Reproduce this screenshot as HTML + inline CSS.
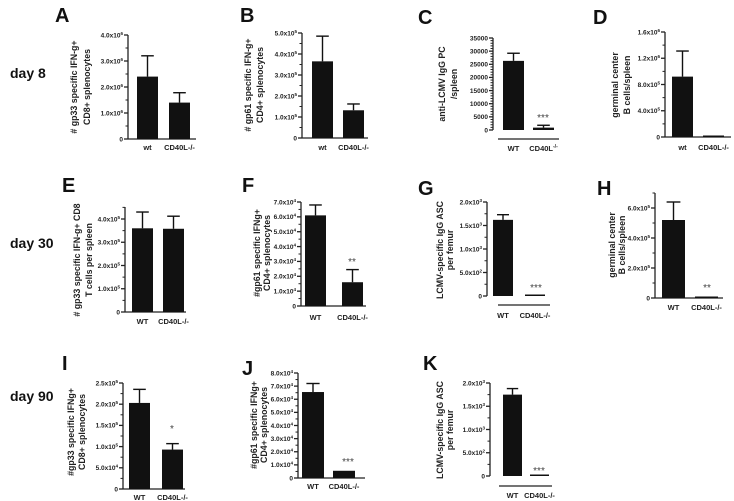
<!DOCTYPE html>
<html><head><meta charset="utf-8"><style>
html,body{margin:0;padding:0;background:#fff}
svg{display:block;font-family:"Liberation Sans",Arial,sans-serif}
</style></head><body>
<svg id="fig" width="734" height="501" viewBox="0 0 734 501">
<g font-weight="bold" font-size="14" fill="#111">
<text x="10" y="78">day 8</text>
<text x="10" y="248">day 30</text>
<text x="10" y="401">day 90</text>
</g>
</svg>
<script>
// ---- data ----
const catsLower = ["wt", "CD40L-/-"];
const catsUpper = ["WT", "CD40L-/-"];
const valsA = [2.4, 1.4];   const errsA = [3.2, 1.78];
const ticksA = [0, 1, 2, 3, 4]; const tickLabelsA = ["0", "1.0x10^6", "2.0x10^6", "3.0x10^6", "4.0x10^6"];
const valsB = [3.65, 1.32]; const errsB = [4.85, 1.62];
const ticksB = [0, 1, 2, 3, 4, 5]; const tickLabelsB = ["0", "1.0x10^5", "2.0x10^5", "3.0x10^5", "4.0x10^5", "5.0x10^5"];
const valsC = [26300, 900]; const errsC = [29200, 1800];
const ticksC = [0, 5000, 10000, 15000, 20000, 25000, 30000, 35000];
const tickLabelsC = ["0", "5000", "10000", "15000", "20000", "25000", "30000", "35000"];
const valsD = [0.92, 0.02]; const errsD = [1.31, 0.02];
const ticksD = [0, 0.4, 0.8, 1.2, 1.6]; const tickLabelsD = ["0", "4.0x10^5", "8.0x10^5", "1.2x10^6", "1.6x10^6"];
const valsE = [3.6, 3.58];  const errsE = [4.3, 4.12];
const ticksE = [0, 1, 2, 3, 4]; const tickLabelsE = ["0", "1.0x10^5", "2.0x10^5", "3.0x10^5", "4.0x10^5"];
const valsF = [6.1, 1.6];   const errsF = [6.8, 2.45];
const ticksF = [0, 1, 2, 3, 4, 5, 6, 7]; const tickLabelsF = ["0", "1.0x10^4", "2.0x10^4", "3.0x10^4", "4.0x10^4", "5.0x10^4", "6.0x10^4", "7.0x10^4"];
const valsG = [1.62, 0.01]; const errsG = [1.73, 0.01];
const ticksG = [0, 0.5, 1, 1.5, 2]; const tickLabelsG = ["0", "5.0x10^2", "1.0x10^3", "1.5x10^3", "2.0x10^3"];
const valsH = [5.2, 0.1];   const errsH = [6.4, 0.1];
const ticksH = [0, 2, 4, 6]; const tickLabelsH = ["0", "2.0x10^5", "4.0x10^5", "6.0x10^5"];
const valsI = [2.03, 0.93]; const errsI = [2.35, 1.07];
const ticksI = [0, 0.5, 1, 1.5, 2, 2.5]; const tickLabelsI = ["0", "5.0x10^4", "1.0x10^5", "1.5x10^5", "2.0x10^5", "2.5x10^5"];
const valsJ = [6.55, 0.55]; const errsJ = [7.2, 0.55];
const ticksJ = [0, 1, 2, 3, 4, 5, 6, 7, 8]; const tickLabelsJ = ["0", "1.0x10^4", "2.0x10^4", "3.0x10^4", "4.0x10^4", "5.0x10^4", "6.0x10^4", "7.0x10^4", "8.0x10^4"];
const valsK = [1.75, 0.01]; const errsK = [1.88, 0.01];
const ticksK = [0, 0.5, 1, 1.5, 2]; const tickLabelsK = ["0", "5.0x10^2", "1.0x10^3", "1.5x10^3", "2.0x10^3"];

// ---- layout (not data) ----
const layouts = [
 {id:"A", v:valsA, e:errsA, t:ticksA, tl:tickLabelsA, c:catsLower, ax:128, y0:139, yTop:35, topVal:4, axTop:35, xEnd:196, bars:[137,169], bw:21, lx:55, ly:22, title:["# gp33 specific IFN-g+","CD8+ splenocytes"], tx:[74,87], ty:87, cy:150, minor:1, stars:null},
 {id:"B", v:valsB, e:errsB, t:ticksB, tl:tickLabelsB, c:catsLower, ax:302, y0:138, yTop:33, topVal:5, axTop:33, xEnd:368, bars:[312,343], bw:21, lx:240, ly:22, title:["# gp61 specific IFN-g+","CD4+ splenocytes"], tx:[248,260], ty:85, cy:150, minor:1, stars:null},
 {id:"C", v:valsC, e:errsC, t:ticksC, tl:tickLabelsC, c:["WT","CD40L"], ax:493, y0:130, yTop:38, topVal:35000, axTop:38, xEnd:null, bars:[503,533], bw:21, lx:418, ly:24, title:["anti-LCMV IgG PC","/spleen"], tx:[442,454], ty:84, cy:151, minor:4, stars:{txt:"***", x:543, y:121}, base:{y:139,x1:498,x2:559}, sup:true},
 {id:"D", v:valsD, e:errsD, t:ticksD, tl:tickLabelsD, c:catsLower, ax:665, y0:137, yTop:32, topVal:1.6, axTop:32, xEnd:731, bars:[672,703], bw:21, lx:593, ly:24, title:["germinal center","B cells/spleen"], tx:[615,627], ty:85, cy:150, minor:1, stars:null},
 {id:"E", v:valsE, e:errsE, t:ticksE, tl:tickLabelsE, c:catsUpper, ax:125, y0:312, yTop:219, topVal:4, axTop:207, xEnd:186, bars:[132,163], bw:21, lx:62, ly:192, title:["# gp33 specific IFN-g+ CD8","T cells per spleen"], tx:[77,89], ty:260, cy:324, minor:1, stars:null},
 {id:"F", v:valsF, e:errsF, t:ticksF, tl:tickLabelsF, c:catsUpper, ax:301, y0:306, yTop:202, topVal:7, axTop:202, xEnd:366, bars:[305,342], bw:21, lx:242, ly:192, title:["#gp61 specific IFNg+","CD4+ splenocytes"], tx:[257,267], ty:253, cy:320, minor:1, stars:{txt:"**", x:352, y:265}},
 {id:"G", v:valsG, e:errsG, t:ticksG, tl:tickLabelsG, c:catsUpper, ax:487, y0:296, yTop:202, topVal:2, axTop:202, xEnd:null, bars:[493,525], bw:20, lx:418, ly:195, title:["LCMV-specific IgG ASC","per femur"], tx:[440,450], ty:250, cy:318, minor:1, stars:{txt:"***", x:536, y:291}, base:{y:305,x1:498,x2:550}},
 {id:"H", v:valsH, e:errsH, t:ticksH, tl:tickLabelsH, c:catsUpper, ax:655, y0:298, yTop:208, topVal:6, axTop:193, xEnd:723, bars:[662,695], bw:23, lx:597, ly:195, title:["germinal center","B cells/spleen"], tx:[612,622], ty:245, cy:310, minor:1, stars:{txt:"**", x:707, y:291}},
 {id:"I", v:valsI, e:errsI, t:ticksI, tl:tickLabelsI, c:catsUpper, ax:123, y0:489, yTop:383, topVal:2.5, axTop:383, xEnd:185, bars:[129,162], bw:21, lx:62, ly:370, title:["#gp33 specific IFNg+","CD8+ splenocytes"], tx:[71,82], ty:432, cy:500, minor:1, stars:{txt:"*", x:172, y:432}},
 {id:"J", v:valsJ, e:errsJ, t:ticksJ, tl:tickLabelsJ, c:catsUpper, ax:298, y0:478, yTop:373, topVal:8, axTop:373, xEnd:365, bars:[302,333], bw:22, lx:242, ly:375, title:["#gp61 specific IFNg+","CD4+ splenocytes"], tx:[254,264], ty:425, cy:489, minor:1, stars:{txt:"***", x:348, y:465}},
 {id:"K", v:valsK, e:errsK, t:ticksK, tl:tickLabelsK, c:catsUpper, ax:490, y0:476, yTop:383, topVal:2, axTop:383, xEnd:null, bars:[503,530], bw:19, lx:423, ly:370, title:["LCMV-specific IgG ASC","per femur"], tx:[440,450], ty:430, cy:498, minor:1, stars:{txt:"***", x:539, y:474}, base:{y:486,x1:499,x2:552}}
];

const NS = "http://www.w3.org/2000/svg";
const svg = document.getElementById("fig");
function mk(tag, attrs, parent) {
  const el = document.createElementNS(NS, tag);
  for (const k in attrs) el.setAttribute(k, attrs[k]);
  parent.appendChild(el);
  return el;
}
function labelText(parent, str, x, y, size) {
  const t = mk("text", {x:x, y:y, "font-size":size, "text-anchor":"end", "font-weight":"bold", fill:"#222"}, parent);
  const parts = str.split("^");
  t.appendChild(document.createTextNode(parts[0]));
  if (parts[1]) {
    const s = mk("tspan", {dy:-2.5, "font-size":size*0.7}, t);
    s.textContent = parts[1];
  }
  return t;
}

layouts.forEach(p => {
  const g = mk("g", {}, svg);
  
  
  const yScale = v => p.y0 - v / p.topVal * (p.y0 - p.yTop);

  const L = mk("text", {x:p.lx, y:p.ly, "font-size":20, "font-weight":"bold", fill:"#111"}, g);
  L.textContent = p.id;
  
  

  const tg = mk("g", {}, g);
  
  
  p.title.forEach((ln, i) => {
    const x = p.tx[i] + 3;
    const t = mk("text", {x:x, y:p.ty, "font-size":8.8, "font-weight":"bold", fill:"#222", "text-anchor":"middle", transform:`rotate(-90 ${x} ${p.ty})`}, tg);
    t.textContent = ln;
  });

  const axis = mk("g", {stroke:"#222", "stroke-width":1.3}, g);
  
  
  mk("line", {x1:p.ax, y1:p.axTop, x2:p.ax, y2:p.y0}, axis);
  if (p.xEnd) {
    const xa = mk("line", {x1:p.ax, y1:p.y0, x2:p.xEnd, y2:p.y0, stroke:"#222", "stroke-width":1.3}, g);
    
    
  }
  const step = p.t[1] - p.t[0];
  p.t.forEach((tv, i) => {
    const y = yScale(tv);
    mk("line", {x1:p.ax - 4, y1:y, x2:p.ax, y2:y}, axis);
    if (i < p.t.length - 1) {
      for (let m = 1; m <= p.minor; m++) {
        const ym = yScale(tv + step * m / (p.minor + 1));
        mk("line", {x1:p.ax - 2.5, y1:ym, x2:p.ax, y2:ym, "stroke-width":1}, axis);
      }
    }
    const lt = labelText(g, p.tl[i], p.ax - 5, y + 2.3, 6.5);
    
    
  });
  if (p.axTop < p.yTop) {
    let tv = p.t[p.t.length - 1];
    for (let m = 1; m <= 3; m++) {
      const ym = yScale(tv + step * m / (p.minor + 1));
      if (ym >= p.axTop) mk("line", {x1:p.ax - 2.5, y1:ym, x2:p.ax, y2:ym, "stroke-width":1}, axis);
    }
  }

  p.v.forEach((val, i) => {
    const x = p.bars[i];
    const yTopBar = yScale(val);
    const h = Math.max(p.y0 - yTopBar, 1.5);
    const r = mk("rect", {x:x, y:p.y0 - h, width:p.bw, height:h, fill:"#111"}, g);
    
    
    if (p.e[i] > val) {
      const cx = x + p.bw / 2;
      const ye = yScale(p.e[i]);
      const eg = mk("g", {stroke:"#111", "stroke-width":1.4}, g);
      
      
      mk("line", {x1:cx, y1:yTopBar, x2:cx, y2:ye}, eg);
      mk("line", {x1:cx - p.bw * 0.3, y1:ye, x2:cx + p.bw * 0.3, y2:ye}, eg);
    }
    const ct = mk("text", {x:x + p.bw / 2, y:p.cy, "font-size":7.5, "font-weight":"bold", fill:"#222", "text-anchor":"middle"}, g);
    ct.textContent = p.c[i];
    if (p.sup && i === 1) { const s = mk("tspan", {dy:-3, "font-size":5}, ct); s.textContent = "-/-"; }
    
    
  });

  if (p.stars) {
    const s = mk("text", {x:p.stars.x, y:p.stars.y, "font-size":10, fill:"#444", "text-anchor":"middle"}, g);
    s.textContent = p.stars.txt;
    
    
  }
  if (p.base) {
    const b = mk("line", {x1:p.base.x1, y1:p.base.y, x2:p.base.x2, y2:p.base.y, stroke:"#222", "stroke-width":1.3}, g);
    
    
  }
});
</script>
</body></html>
